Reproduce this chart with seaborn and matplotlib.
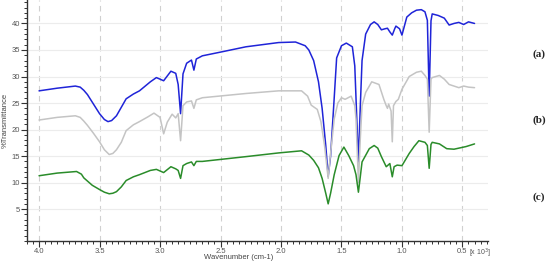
import numpy as np
import pandas as pd
import seaborn as sns
import matplotlib.pyplot as plt
from matplotlib.ticker import MultipleLocator

# ---- data (wavenumber in 10^3 cm-1, % transmittance) ----
wn_a = [4.00, 3.85, 3.70, 3.66, 3.63, 3.60, 3.55, 3.50, 3.46, 3.43, 3.40, 3.36, 3.32, 3.28,
        3.22, 3.17, 3.08, 3.03, 2.97, 2.91, 2.87, 2.85, 2.83, 2.81, 2.78, 2.74, 2.72, 2.70,
        2.65, 2.50, 2.29, 2.02, 1.88, 1.80, 1.77, 1.73, 1.69, 1.66, 1.63, 1.61, 1.59, 1.56,
        1.54, 1.50, 1.46, 1.41, 1.39, 1.38, 1.36, 1.345, 1.33, 1.30, 1.26, 1.23, 1.20, 1.17,
        1.14, 1.12, 1.10, 1.08, 1.06, 1.05, 1.02, 1.00, 0.98, 0.96, 0.92, 0.88, 0.84, 0.81,
        0.79, 0.775, 0.76, 0.75, 0.70, 0.65, 0.61, 0.57, 0.53, 0.49, 0.45, 0.40]
t_a = [27.3, 27.8, 28.2, 28.0, 27.4, 26.6, 24.8, 23.0, 21.9, 21.5, 21.7, 22.6, 24.2, 25.8,
       26.7, 27.3, 29.0, 29.8, 29.2, 31.0, 30.6, 28.5, 23.0, 30.5, 32.5, 33.1, 31.2, 33.3,
       33.9, 34.6, 35.6, 36.4, 36.5, 35.8, 35.0, 33.0, 29.0, 24.0, 17.0, 11.2, 15.0, 26.0,
       33.5, 35.8, 36.3, 35.6, 32.0, 26.0, 13.9, 24.0, 33.0, 38.0, 39.8, 40.3, 39.8, 38.8,
       39.0, 39.1, 38.4, 37.8, 39.0, 39.5, 39.0, 37.8, 39.5, 41.2, 42.0, 42.5, 42.6, 42.2,
       40.6, 26.3, 40.5, 41.8, 41.5, 41.0, 39.7, 40.0, 40.2, 39.8, 40.3, 40.0]

wn_b = [4.00, 3.85, 3.70, 3.66, 3.63, 3.60, 3.55, 3.50, 3.46, 3.42, 3.39, 3.36, 3.32, 3.28,
        3.22, 3.17, 3.10, 3.05, 3.00, 2.97, 2.94, 2.90, 2.87, 2.85, 2.83, 2.81, 2.78, 2.74,
        2.72, 2.70, 2.65, 2.29, 2.02, 1.83, 1.78, 1.75, 1.70, 1.67, 1.64, 1.61, 1.59, 1.56,
        1.53, 1.50, 1.47, 1.42, 1.39, 1.38, 1.36, 1.345, 1.33, 1.30, 1.25, 1.19, 1.15, 1.13,
        1.12, 1.11, 1.09, 1.08, 1.07, 1.05, 1.03, 1.00, 0.94, 0.88, 0.84, 0.81, 0.79, 0.775,
        0.76, 0.75, 0.69, 0.65, 0.61, 0.57, 0.53, 0.49, 0.45, 0.40]
t_b = [21.8, 22.3, 22.6, 22.3, 21.6, 20.8, 19.3, 17.7, 16.2, 15.3, 15.5, 16.2, 17.6, 19.8,
       20.9, 21.5, 22.4, 23.1, 22.3, 19.2, 21.4, 22.9, 22.2, 23.0, 17.9, 24.5, 25.2, 25.4,
       24.0, 25.6, 26.0, 26.8, 27.3, 27.3, 26.3, 24.6, 23.8, 21.5, 17.0, 10.8, 15.5, 22.0,
       25.0, 26.0, 25.7, 26.3, 24.5, 22.0, 10.0, 18.0, 24.5, 27.0, 29.0, 28.5, 25.7, 24.5,
       24.0, 24.8, 23.5, 17.7, 24.5, 25.3, 25.7, 27.6, 30.0, 30.8, 31.0, 30.2, 29.5, 19.5,
       29.5, 29.8, 30.2, 29.5, 28.5, 28.2, 27.9, 28.2, 28.0, 27.9]

wn_c = [4.00, 3.85, 3.69, 3.65, 3.63, 3.59, 3.56, 3.50, 3.46, 3.42, 3.39, 3.36, 3.32, 3.28,
        3.22, 3.17, 3.08, 3.03, 2.97, 2.91, 2.87, 2.85, 2.83, 2.81, 2.78, 2.74, 2.72, 2.70,
        2.65, 2.29, 2.02, 1.83, 1.77, 1.73, 1.69, 1.66, 1.63, 1.61, 1.59, 1.56, 1.52, 1.48,
        1.44, 1.40, 1.38, 1.36, 1.345, 1.33, 1.27, 1.23, 1.20, 1.17, 1.13, 1.10, 1.08, 1.065,
        1.04, 1.00, 0.94, 0.90, 0.86, 0.81, 0.79, 0.775, 0.76, 0.75, 0.69, 0.63, 0.57, 0.53,
        0.47, 0.40]
t_c = [11.3, 11.8, 12.1, 11.6, 10.9, 10.1, 9.5, 8.7, 8.2, 7.9, 8.0, 8.3, 9.2, 10.4,
       11.1, 11.5, 12.3, 12.5, 11.9, 13.0, 12.6, 12.3, 10.8, 13.2, 13.6, 13.9, 13.2, 14.0,
       14.0, 14.9, 15.6, 16.0, 15.2, 14.2, 12.8, 10.8, 8.0, 6.0, 8.0, 11.5, 15.1, 16.7,
       15.1, 13.2, 11.5, 8.2, 11.0, 13.9, 16.4, 17.0, 16.5, 14.9, 13.0, 13.6, 11.1, 13.0,
       13.3, 13.2, 15.5, 16.8, 17.9, 17.6, 17.0, 12.7, 17.2, 17.6, 17.3, 16.4, 16.3, 16.5,
       16.8, 17.3]

series_names = ["a", "b", "c"]
series_colors = {"a": "#1f24d8", "b": "#c4c4c4", "c": "#2a8c2a"}
side_labels = ["(a)", "(b)", "(c)"]
y_ticks = [5, 10, 15, 20, 25, 30, 35, 40]
x_ticks = [4.0, 3.5, 3.0, 2.5, 2.0, 1.5, 1.0, 0.5]

df = pd.concat([
    pd.DataFrame({"wn": wn_a, "t": t_a, "s": "a"}),
    pd.DataFrame({"wn": wn_b, "t": t_b, "s": "b"}),
    pd.DataFrame({"wn": wn_c, "t": t_c, "s": "c"}),
])

sns.set_theme(style="white")
plt.rcParams['font.family'] = ['Liberation Sans', 'DejaVu Sans']

fig = plt.figure(figsize=(5.5, 2.61), dpi=100)
ax = fig.add_axes([0.049, 0.0766, 0.838, 0.923])

sns.lineplot(data=df, x="wn", y="t", hue="s", hue_order=series_names,
             palette=series_colors, estimator=None, sort=False, lw=1.1,
             legend=False, ax=ax)

ax.set_xlim(4.10, 0.29)
ax.set_ylim(-1, 44.4)
ax.set_xticks(x_ticks)
ax.set_xticklabels([f"{v:.1f}" for v in x_ticks])
ax.xaxis.set_minor_locator(MultipleLocator(0.05))
ax.set_yticks(y_ticks)
ax.set_yticklabels([str(v) for v in y_ticks])
ax.yaxis.set_minor_locator(MultipleLocator(1))

ax.grid(axis="x", which="major", ls=(0, (5, 4)), color="#d0d0d0", lw=0.8)
ax.grid(axis="y", which="major", ls="-", color="#ececec", lw=0.8)
ax.set_axisbelow(True)

for s in ["top", "right"]:
    ax.spines[s].set_visible(False)
for s in ["left", "bottom"]:
    ax.spines[s].set_color("#333333")
    ax.spines[s].set_linewidth(1.0)

ax.tick_params(axis="both", which="major", direction="out", length=4, width=0.8,
               color="#333333", labelsize=5.5, labelcolor="#555555", pad=1.0)
ax.tick_params(axis="both", which="minor", direction="out", length=2, width=0.7,
               color="#333333")
ax.tick_params(axis="both", which="both", bottom=True, left=True)

ax.set_xlabel("Wavenumber (cm-1)", fontsize=5.5, color="#444444", labelpad=1)
ax.xaxis.set_label_coords(0.46, -0.055)
ax.set_ylabel("%Transmittance", fontsize=5.5, color="#444444", labelpad=2)

fig.text(469 / 550, 0.5 / 261, "[x 10$^3$]", fontsize=5, color="#555555",
         ha="left", va="bottom")

for lab, yp in zip(side_labels, [54, 120, 197]):
    fig.text(539 / 550, 1 - yp / 261, lab, fontsize=8, fontweight="bold",
             family=["Liberation Serif", "DejaVu Serif"], ha="center", va="center")

fig.savefig("out.png", dpi=100)
